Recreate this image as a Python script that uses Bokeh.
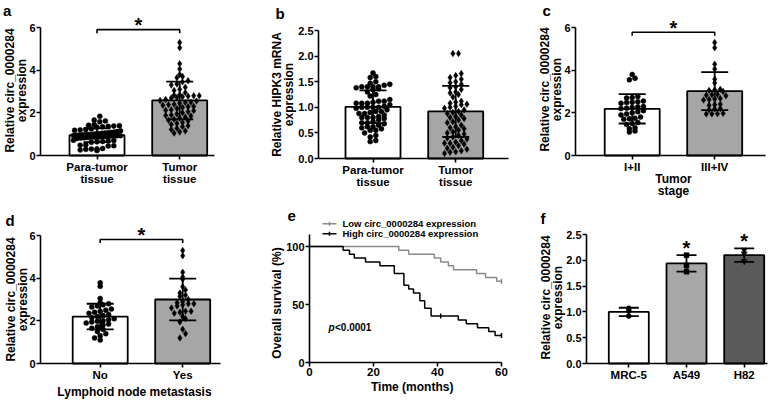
import numpy as np
from bokeh.plotting import figure
from bokeh.models import Range1d, FixedTicker, NumeralTickFormatter, Label
from bokeh.layouts import column, row
from bokeh.embed import file_html
from bokeh.resources import INLINE

FONT = "Liberation Sans"

# ---------------- data ----------------
a_labels = ["Para-tumor\ntissue", "Tumor\ntissue"]
a_para = [1.84, 1.66, 1.62, 1.58, 1.45, 1.42, 1.40, 1.38, 1.37, 1.35, 1.33, 1.25, 1.22, 1.20,
          1.18, 1.16, 1.12, 1.10, 1.08, 1.07, 1.05, 1.04, 1.02, 1.01, 1.00, 0.99, 0.98, 0.97,
          0.96, 0.95, 0.94, 0.93, 0.92, 0.91, 0.90, 0.89, 0.88, 0.87, 0.86, 0.85, 0.84, 0.83,
          0.82, 0.80, 0.72, 0.70, 0.68, 0.66, 0.64, 0.62, 0.50, 0.48, 0.46, 0.45, 0.33, 0.31,
          0.30, 0.29, 0.26, 0.23]
a_tumor = [5.30, 5.05, 4.30, 4.05, 3.80, 3.70, 3.65, 3.50, 3.45, 3.35, 3.30, 3.20, 3.10, 3.05,
           2.95, 2.85, 2.82, 2.80, 2.80, 2.78, 2.75, 2.72, 2.70, 2.62, 2.58, 2.55, 2.50, 2.48,
           2.45, 2.40, 2.38, 2.35, 2.30, 2.28, 2.25, 2.20, 2.15, 2.12, 2.10, 2.05, 2.00, 1.95,
           1.90, 1.88, 1.85, 1.80, 1.75, 1.70, 1.65, 1.62, 1.55, 1.50, 1.45, 1.40, 1.35, 1.28,
           1.22, 1.15, 1.10, 1.05]
a_mean = [0.95, 2.58]
a_sd = [0.32, 0.88]
a_sig_y = 5.9
a_yticks = [0, 2, 4, 6]
circ_ylabel = ["Relative circ_0000284", "expression"]

b_labels = ["Para-tumor\ntissue", "Tumor\ntissue"]
b_para = [1.67, 1.60, 1.58, 1.50, 1.47, 1.45, 1.43, 1.40, 1.40, 1.40, 1.40, 1.38, 1.36, 1.35,
          1.30, 1.25, 1.22, 1.15, 1.12, 1.08, 1.08, 1.08, 1.05, 1.02, 1.00, 1.00, 1.00, 1.00,
          0.98, 0.95, 0.92, 0.90, 0.88, 0.85, 0.82, 0.80, 0.80, 0.80, 0.78, 0.75, 0.72, 0.70,
          0.68, 0.65, 0.62, 0.60, 0.58, 0.55, 0.50, 0.45, 0.42, 0.35, 0.33, 0.88, 0.92, 1.10,
          1.12, 0.70, 0.62, 0.55]
b_tumor = [2.05, 2.05, 1.66, 1.62, 1.58, 1.55, 1.50, 1.48, 1.45, 1.40, 1.38, 1.35, 1.30, 1.28,
           1.25, 1.20, 1.12, 1.10, 1.08, 1.06, 1.05, 1.02, 1.00, 0.98, 0.95, 0.92, 0.90, 0.88,
           0.85, 0.82, 0.80, 0.78, 0.75, 0.72, 0.70, 0.65, 0.62, 0.60, 0.58, 0.55, 0.50, 0.48,
           0.45, 0.42, 0.40, 0.38, 0.35, 0.32, 0.30, 0.28, 0.25, 0.22, 0.20, 0.18, 0.15, 0.13,
           0.12, 0.10, 0.30, 0.52]
b_mean = [1.01, 0.92]
b_sd = [0.32, 0.50]
b_yticks = [0, 0.5, 1.0, 1.5, 2.0, 2.5]
b_ylabel = ["Relative HIPK3 mRNA", "expression"]

c_labels = ["I+II", "III+IV"]
c_early = [3.80, 3.62, 3.55, 2.76, 2.72, 2.70, 2.55, 2.52, 2.50, 2.48, 2.45, 2.30, 2.28, 2.25,
           2.22, 2.20, 2.10, 2.05, 2.00, 1.95, 1.90, 1.80, 1.75, 1.72, 1.70, 1.55, 1.50, 1.45,
           1.30, 1.25, 1.15, 1.10]
c_late = [5.30, 5.05, 4.28, 4.05, 3.58, 3.40, 3.10, 3.08, 3.05, 3.00, 2.86, 2.85, 2.82, 2.80,
          2.67, 2.65, 2.62, 2.60, 2.40, 2.38, 2.35, 2.20, 2.18, 2.15, 1.98, 1.96, 1.95, 1.95]
c_mean = [2.19, 3.02]
c_sd = [0.69, 0.89]
c_sig_y = 5.78
c_xtitle = ["Tumor", "stage"]

d_labels = ["No", "Yes"]
d_no = [3.78, 3.62, 3.05, 2.85, 2.80, 2.75, 2.70, 2.65, 2.55, 2.50, 2.45, 2.40, 2.35, 2.30,
        2.25, 2.20, 2.15, 2.10, 2.05, 2.00, 1.98, 1.95, 1.90, 1.85, 1.80, 1.72, 1.65, 1.60,
        1.50, 1.40, 1.30, 1.20, 1.10]
d_yes = [5.30, 5.05, 4.28, 4.05, 3.95, 3.60, 3.45, 3.30, 3.20, 3.15, 3.00, 2.90, 2.85, 2.80,
         2.75, 2.70, 2.60, 2.45, 2.40, 2.35, 2.20, 2.10, 1.95, 1.60, 1.40, 1.20, 2.45, 2.80]
d_mean = [2.20, 3.00]
d_sd = [0.60, 0.98]
d_sig_y = 5.81
d_xtitle = "Lymphoid node metastasis"

e_low_t = [0, 27.9, 31.0, 39.0, 41.0, 43.4, 45.0, 52.2, 55.0, 58.5, 60.0]
e_low_s = [100, 96.7, 93.3, 90.0, 86.7, 83.3, 80.0, 76.7, 73.3, 70.0, 70.0]
e_high_t = [0, 10.5, 12.5, 14.0, 17.5, 22.0, 26.5, 29.5, 31.0, 32.5, 34.5, 36.0, 38.0, 46.5,
            49.0, 52.5, 56.0, 58.0, 60.0]
e_high_s = [100, 96.7, 93.3, 90.0, 86.7, 83.3, 76.7, 66.7, 63.3, 60.0, 53.3, 46.7, 40.0, 36.7,
            33.3, 30.0, 26.7, 23.3, 23.3]
e_low_cens_t = [60.0]
e_low_cens_s = [70.0]
e_high_cens_t = [41.0, 60.0]
e_high_cens_s = [40.0, 23.3]
e_legend = ["Low circ_0000284 expression", "High circ_0000284 expression"]
e_xticks = [0, 20, 40, 60]
e_yticks = [0, 50, 100]
e_ylabel = "Overall survival (%)"
e_xtitle = "Time (months)"
e_pval = ["p", "<0.0001"]

f_labels = ["MRC-5", "A549", "H82"]
f_points = [[1.07, 1.02, 0.92], [2.10, 1.90, 1.78], [2.20, 2.13, 1.98]]
f_mean = [1.00, 1.94, 2.10]
f_sd = [0.08, 0.16, 0.13]
f_starred = [False, True, True]
f_yticks = [0, 0.5, 1.0, 1.5, 2.0, 2.5]

GRAY = "#a6a6a6"


# ---------------- helpers ----------------
def make_fig(ox, oy, W, H, axis_left, axis_right, xref, yref, yorigin=0.0):
    """Frame covers the whole canvas; axes are pinned at the data origin."""
    xd1, xp1, xd2, xp2 = xref
    sx = (xp2 - xp1) / (xd2 - xd1)
    yd1, yp1, yd2, yp2 = yref
    sy = (yp1 - yp2) / (yd2 - yd1)

    def X(px):
        return xd1 + (px - xp1) / sx

    def Y(py):
        return yd1 + (yp1 - py) / sy

    p = figure(width=W, height=H, x_range=Range1d(X(ox), X(ox + W)),
               y_range=Range1d(Y(oy + H), Y(oy)),
               min_border_left=0, min_border_right=0, min_border_top=0, min_border_bottom=0,
               output_backend="svg", toolbar_location=None, tools="")
    p.outline_line_color = None
    p.grid.visible = False
    p.background_fill_color = "white"
    p.border_fill_color = "white"
    xa, ya = p.xaxis[0], p.yaxis[0]
    xa.fixed_location = yorigin
    ya.fixed_location = X(axis_left)
    xa.bounds = (X(axis_left), X(axis_right))
    for ax in (xa, ya):
        ax.axis_line_width = 1.6
        ax.axis_line_color = "black"
        ax.major_tick_line_width = 1.6
        ax.major_tick_line_color = "black"
        ax.minor_tick_line_color = None
        ax.major_tick_in = 0
        ax.major_tick_out = 4
        ax.major_label_text_font = FONT
        ax.major_label_text_font_style = "bold"
        ax.major_label_text_color = "black"
    xa.major_label_text_font_size = "11.5px"
    xa.major_label_text_line_height = 1.0
    ya.major_label_text_font_size = "11px"
    xa.major_label_standoff = 1
    ya.major_label_standoff = 1
    return p, X, Y, sx, sy


def lab(p, x, y, text, size, style="bold", align="center", baseline="middle", angle=0.0,
        color="black"):
    p.add_layout(Label(x=x, y=y, text=text, text_font=FONT, text_font_size=size,
                       text_font_style=style, text_align=align, text_baseline=baseline,
                       angle=angle, text_color=color))


def letter(p, X, Y, px, py, t):
    lab(p, X(px), Y(py), t, "15px", align="left", baseline="alphabetic")


def ylabel(p, X, Y, xs_px, yc_px, lines):
    for xp, t in zip(xs_px, lines):
        lab(p, X(xp), Y(yc_px), t, "12px", angle=np.pi / 2)


def star(p, x, y):
    lab(p, x, y, "*", "20px", baseline="alphabetic")


def swarm(vals, sx, sy, row_px, step_px, max_half_px):
    vals = np.asarray(vals, dtype=float)
    bins = np.floor(vals * sy / row_px).astype(int)
    off = np.zeros(len(vals))
    for b in np.unique(bins):
        idx = np.where(bins == b)[0]
        idx = idx[np.argsort(vals[idx])]
        k = len(idx)
        step = step_px
        if k > 1 and (k - 1) * step / 2 > max_half_px:
            step = 2 * max_half_px / (k - 1)
        off[idx] = (np.arange(k) - (k - 1) / 2) * step / sx
    return off


def draw_bars(p, sx, sy, groups, means, sds, colors, markers, sizes, bar_px, cap_px,
              row_px=5.0, step_px=5.6):
    n = len(means)
    xs = list(range(1, n + 1))
    p.vbar(x=xs, top=means, bottom=0, width=bar_px / sx, fill_color=colors,
           line_color="black", line_width=1.8)
    for i, vals in enumerate(groups):
        off = swarm(vals, sx, sy, row_px, step_px, bar_px / 2 - 4)
        p.scatter(x=xs[i] + off, y=vals, marker=markers[i], size=sizes[i],
                  fill_color="black", line_color="black", line_width=0.5)
    hi = [m + s for m, s in zip(means, sds)]
    lo = [m - s for m, s in zip(means, sds)]
    p.segment(x0=xs, y0=lo, x1=xs, y1=hi, line_color="black", line_width=1.8)
    cw = cap_px / 2 / sx
    p.segment(x0=[x - cw for x in xs] * 2, y0=hi + lo, x1=[x + cw for x in xs] * 2, y1=hi + lo,
              line_color="black", line_width=1.8)
    return xs, hi


def bracket(p, sy, x1, x2, y):
    t = 3.5 / sy
    p.line(x=[x1, x1, x2, x2], y=[y - t, y, y, y - t], line_color="black", line_width=1.6)
    star(p, (x1 + x2) / 2, y + 4.3 / sy)


def cat_axis(p, labels, yticks, ybounds, fmt=None):
    p.xaxis[0].ticker = FixedTicker(ticks=list(range(1, len(labels) + 1)))
    p.xaxis[0].major_label_overrides = {i + 1: t for i, t in enumerate(labels)}
    p.yaxis[0].ticker = FixedTicker(ticks=yticks)
    p.yaxis[0].bounds = ybounds
    if fmt:
        p.yaxis[0].formatter = NumeralTickFormatter(format=fmt)


# ---------------- panel a ----------------
pa, Xa, Ya, sxa, sya = make_fig(0, 0, 260, 200, 40, 214, (1, 96.5, 2, 179.2), (0, 155, 6, 27))
draw_bars(pa, sxa, sya, [a_para, a_tumor], a_mean, a_sd, ["white", GRAY],
          ["circle", "diamond"], [5, 6.5], 55, 27)
cat_axis(pa, a_labels, a_yticks, (0, 6))
bracket(pa, sya, 1, 2, a_sig_y)
ylabel(pa, Xa, Ya, [9, 21.3], 90, circ_ylabel)
letter(pa, Xa, Ya, 2.5, 10, "a")

# ---------------- panel b ----------------
pb, Xb, Yb, sxb, syb = make_fig(260, 0, 260, 200, 318, 508, (1, 372.5, 2, 455.2),
                                (0, 158, 2.5, 30))
draw_bars(pb, sxb, syb, [b_para, b_tumor], b_mean, b_sd, ["white", GRAY],
          ["circle", "diamond"], [5, 6.5], 55, 27)
cat_axis(pb, b_labels, b_yticks, (0, 2.5), "0.0")
ylabel(pb, Xb, Yb, [276.3, 288.6], 94, b_ylabel)
letter(pb, Xb, Yb, 275, 12.5, "b")

# ---------------- panel c ----------------
pc, Xc, Yc, sxc, syc = make_fig(520, 0, 264, 200, 575, 765, (1, 631.7, 2, 714.2),
                                (0, 155, 6, 27))
draw_bars(pc, sxc, syc, [c_early, c_late], c_mean, c_sd, ["white", GRAY],
          ["circle", "diamond"], [5, 6.5], 55, 27)
cat_axis(pc, c_labels, a_yticks, (0, 6))
bracket(pc, syc, 1, 2, c_sig_y)
ylabel(pc, Xc, Yc, [544.3, 556.6], 89, circ_ylabel)
lab(pc, Xc(673), Yc(178.3), c_xtitle[0], "12px")
lab(pc, Xc(673), Yc(190.7), c_xtitle[1], "12px")
letter(pc, Xc, Yc, 542, 10, "c")

# ---------------- panel d ----------------
pd_, Xd, Yd, sxd, syd = make_fig(0, 200, 260, 200, 40, 220, (1, 99.7, 2, 182.2),
                                 (0, 363, 6, 235))
draw_bars(pd_, sxd, syd, [d_no, d_yes], d_mean, d_sd, ["white", GRAY],
          ["circle", "diamond"], [5, 6.5], 55, 27)
cat_axis(pd_, d_labels, a_yticks, (0, 6))
bracket(pd_, syd, 1, 2, d_sig_y)
ylabel(pd_, Xd, Yd, [10.2, 22.5], 299, circ_ylabel)
lab(pd_, Xd(134), Yd(391.7), d_xtitle, "12px")
letter(pd_, Xd, Yd, 5, 220, "d")

# ---------------- panel e ----------------
pe, Xe, Ye, sxe, sye = make_fig(260, 200, 260, 200, 309, 501, (0, 309, 60, 501),
                                (0, 362, 100, 246))
pe.xaxis[0].ticker = FixedTicker(ticks=e_xticks)
pe.xaxis[0].bounds = (0, 60)
pe.yaxis[0].ticker = FixedTicker(ticks=e_yticks)
pe.yaxis[0].bounds = (0, 110)
pe.step(x=e_low_t, y=e_low_s, mode="after", line_color="#8a8a8a", line_width=1.5)
pe.step(x=e_high_t, y=e_high_s, mode="after", line_color="black", line_width=1.5)
pe.scatter(x=e_low_cens_t, y=e_low_cens_s, marker="dash", angle=np.pi / 2, size=5,
           line_color="#8a8a8a", line_width=1.5)
pe.scatter(x=e_high_cens_t, y=e_high_cens_s, marker="dash", angle=np.pi / 2, size=5,
           line_color="black", line_width=1.5)
leg_y = [Ye(223.3), Ye(233.3)]
for txt, yy, col in zip(e_legend, leg_y, ["#8a8a8a", "black"]):
    pe.line(x=[Xe(322), Xe(336)], y=[yy, yy], line_color=col, line_width=1.5)
    pe.scatter(x=[Xe(329)], y=[yy], marker="dash", angle=np.pi / 2, size=4,
               line_color=col, line_width=1.5)
    lab(pe, Xe(342), yy, txt, "9.5px", align="left")
lab(pe, Xe(328), Ye(326.7), e_pval[0], "10px", style="bold italic", align="left")
lab(pe, Xe(334.5), Ye(326.7), e_pval[1], "10px", align="left")
lab(pe, Xe(276), Ye(302.5), e_ylabel, "12px", angle=np.pi / 2)
lab(pe, Xe(411.7), Ye(386.7), e_xtitle, "12px")
letter(pe, Xe, Ye, 287, 215, "e")

# ---------------- panel f ----------------
pf, Xf, Yf, sxf, syf = make_fig(520, 200, 264, 200, 586, 767, (1, 628.3, 2, 686),
                                (0, 363, 2.5, 234))
fx, fhi = draw_bars(pf, sxf, syf, f_points, f_mean, f_sd, ["white", "#a8a8a8", "#5a5a5a"],
                    ["circle", "square", "inverted_triangle"], [5, 5, 6], 40, 20)
cat_axis(pf, f_labels, f_yticks, (0, 2.5), "0.0")
for x, h, s in zip(fx, fhi, f_starred):
    if s:
        star(pf, x, h + 7.0 / syf)
ylabel(pf, Xf, Yf, [545, 557.3], 297, circ_ylabel)
letter(pf, Xf, Yf, 540, 218, "f")

layout = column(row(pa, pb, pc), row(pd_, pe, pf))
open("out.html", "w").write(file_html(layout, INLINE))
